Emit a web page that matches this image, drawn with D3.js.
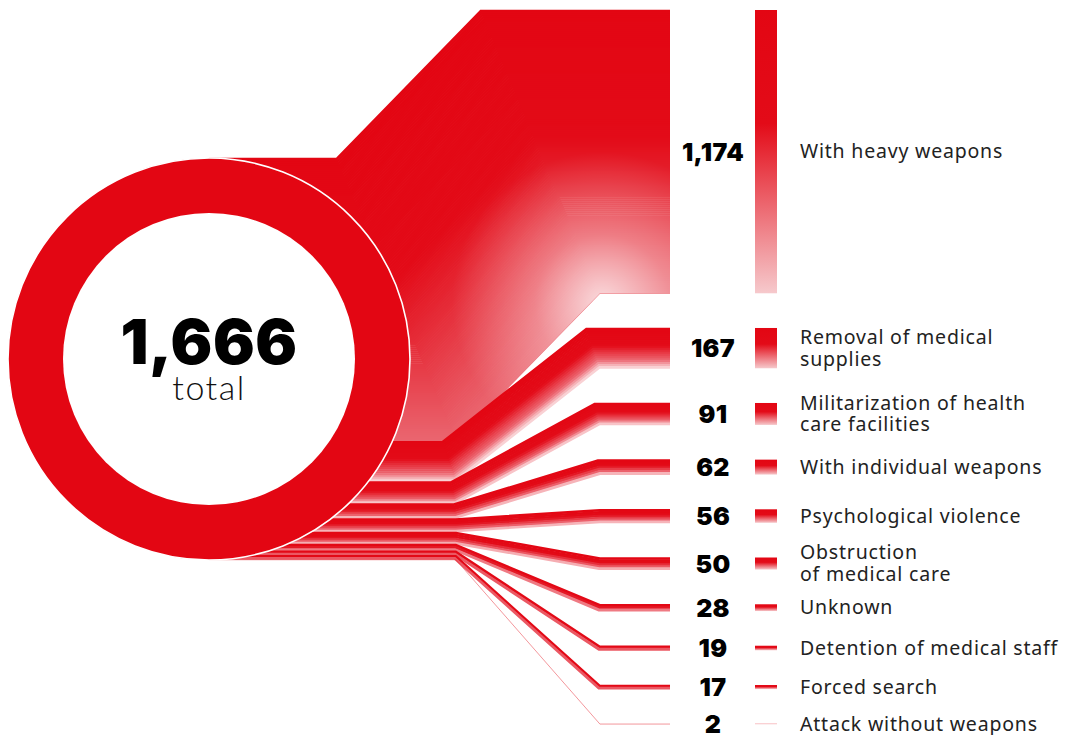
<!DOCTYPE html>
<html>
<head>
<meta charset="utf-8">
<script src="https://cdn.jsdelivr.net/npm/d3@7"></script>
<style>
  body { margin: 0; background: #fff; }
  svg { display: block; }
</style>
</head>
<body>
<div id="chart"></div>
<script>
// data
var categories = ["With heavy weapons", "Removal of medical supplies", "Militarization of health care facilities",
  "With individual weapons", "Psychological violence", "Obstruction of medical care", "Unknown",
  "Detention of medical staff", "Forced search", "Attack without weapons"];
var labelLines = [["With heavy weapons"], ["Removal of medical", "supplies"], ["Militarization of health", "care facilities"],
  ["With individual weapons"], ["Psychological violence"], ["Obstruction", "of medical care"], ["Unknown"],
  ["Detention of medical staff"], ["Forced search"], ["Attack without weapons"]];
var counts = [1174, 167, 91, 62, 56, 50, 28, 19, 17, 2];
var totalLabel = "total";

var width = 1067, height = 735;
var cx = 209, cy = 359, R = 201, r = 146;
var xFlowEnd = 670, bend1 = 456, bend2 = 600;
var rightTop = 10, rowGap = 34.7;
var numX = 713, barX = 755, barW = 22, labelX = 800;

var total = d3.sum(counts);
var fmt = d3.format(",");

var svg = d3.select("#chart").append("svg")
  .attr("width", width)
  .attr("height", height);

var defs = svg.append("defs");

// thickness scale: the whole total fills the circle's diameter
var k = d3.scaleLinear().domain([0, total]).range([0, 2 * R]);

// stack on the left (into the circle) and on the right (bars with gaps)
var flows = [];
var accL = 0, yR = rightTop;
counts.forEach(function(v, i) {
  var t = k(v);
  flows.push({
    name: categories[i], lines: labelLines[i], value: v, t: t,
    leftTop: cy - R + k(accL), rightTop: yR
  });
  accL += v;
  yR += t + rowGap;
});

function normal(a, b) {
  var dx = b[0] - a[0], dy = b[1] - a[1], len = Math.sqrt(dx * dx + dy * dy);
  return [-dy / len, dx / len];
}

// miter offset of a polyline by d (positive = downward side)
function offsetLine(pts, d) {
  return pts.map(function(p, i) {
    if (i === 0) { var n0 = normal(pts[0], pts[1]); return [p[0] + n0[0] * d, p[1] + n0[1] * d]; }
    if (i === pts.length - 1) { var nl = normal(pts[i - 1], pts[i]); return [p[0] + nl[0] * d, p[1] + nl[1] * d]; }
    var n1 = normal(pts[i - 1], pts[i]), n2 = normal(pts[i], pts[i + 1]);
    var bx = n1[0] + n2[0], by = n1[1] + n2[1];
    var s = d / (bx * n1[0] + by * n1[1]);
    return [p[0] + bx * s, p[1] + by * s];
  });
}

function centerLine(f) {
  var yL = f.leftTop + f.t / 2, yRc = f.rightTop + f.t / 2;
  var dy = Math.abs(yRc - yL);
  var alpha = Math.atan2(dy, bend2 - bend1);
  var shift = (f.t / 2) * Math.tan(alpha / 2);
  return [[cx, yL], [bend1 - shift, yL], [bend2 - shift, yRc], [xFlowEnd, yRc]];
}

var flowColor = d3.scaleLinear()
  .domain([0, 0.45, 0.8, 1])
  .range(["#e30613", "#e30b18", "#ec6570", "#fbe0e2"]);
var heavyColor = d3.scaleLinear()
  .domain([0, 0.45, 1])
  .range(["#e30613", "#e30b18", "#ea6670"]);

var line = d3.line();
var flowG = svg.append("g").attr("class", "flows");

flows.forEach(function(f, i) {
  var cl = centerLine(f);
  var n = Math.max(1, Math.round(f.t / 2));
  var sw = f.t / n;
  var col = i === 0 ? heavyColor : flowColor;
  for (var j = 0; j < n; j++) {
    var frac = (j + 0.5) / n;
    flowG.append("path")
      .attr("d", line(offsetLine(cl, (frac - 0.5) * f.t)))
      .attr("fill", "none")
      .attr("stroke", col(n === 1 ? 0.55 : frac))
      .attr("stroke-width", sw + (n > 1 ? 0.7 : 0))
      .attr("stroke-linejoin", "miter");
  }
  if (i === 0) {
    // light glow near the inner corner of the big flow
    var rg = defs.append("radialGradient").attr("id", "glow")
      .attr("gradientUnits", "userSpaceOnUse")
      .attr("cx", 602).attr("cy", 302).attr("r", 150);
    rg.append("stop").attr("offset", 0).attr("stop-color", "#fff").attr("stop-opacity", 0.75);
    rg.append("stop").attr("offset", 0.45).attr("stop-color", "#fff").attr("stop-opacity", 0.3);
    rg.append("stop").attr("offset", 1).attr("stop-color", "#fff").attr("stop-opacity", 0);
    var topE = offsetLine(cl, -f.t / 2), botE = offsetLine(cl, f.t / 2);
    flowG.append("path")
      .attr("d", line(topE.concat(botE.reverse())) + "Z")
      .attr("fill", "url(#glow)");
  }
});

// the ring
svg.append("circle")
  .attr("cx", cx).attr("cy", cy).attr("r", R)
  .attr("fill", "#e30613")
  .attr("stroke", "#fff").attr("stroke-width", 1.6);
svg.append("circle")
  .attr("cx", cx).attr("cy", cy).attr("r", r)
  .attr("fill", "#fff");

svg.append("text")
  .attr("x", cx).attr("y", 364)
  .attr("text-anchor", "middle")
  .style("font-family", "Inter, Lato, Roboto, sans-serif")
  .style("font-weight", 900)
  .style("font-size", "62px")
  .style("letter-spacing", "0.5px")
  .attr("fill", "#000")
  .text(fmt(total));
svg.append("text")
  .attr("x", cx).attr("y", 400)
  .attr("text-anchor", "middle")
  .style("font-family", "Lato, 'Noto Sans', sans-serif")
  .style("font-weight", 300)
  .style("font-size", "34px")
  .style("letter-spacing", "1.5px")
  .attr("fill", "#111")
  .text(totalLabel);

// bars, numbers and labels on the right
var barGrad = defs.append("linearGradient").attr("id", "barGrad")
  .attr("x1", 0).attr("y1", 0).attr("x2", 0).attr("y2", 1);
barGrad.append("stop").attr("offset", 0).attr("stop-color", "#e30613");
barGrad.append("stop").attr("offset", 0.4).attr("stop-color", "#e30b18");
barGrad.append("stop").attr("offset", 1).attr("stop-color", "#f6c9cc");

var rows = svg.append("g").attr("class", "rows")
  .selectAll("g").data(flows).enter().append("g");

rows.append("rect")
  .attr("x", barX).attr("width", barW)
  .attr("y", function(d) { return d.rightTop; })
  .attr("height", function(d) { return d.t; })
  .attr("fill", "url(#barGrad)");

rows.append("text")
  .attr("x", numX)
  .attr("y", function(d) { return d.rightTop + d.t / 2; })
  .attr("dy", "0.36em")
  .attr("text-anchor", "middle")
  .style("font-family", "Inter, Lato, Roboto, sans-serif")
  .style("font-weight", 900)
  .style("font-size", "25px")
  .style("letter-spacing", "0.3px")
  .attr("fill", "#000")
  .text(function(d) { return fmt(d.value); });

rows.each(function(d) {
  var g = d3.select(this);
  var c = d.rightTop + d.t / 2;
  var nl = d.lines.length;
  d.lines.forEach(function(s, j) {
    g.append("text")
      .attr("x", labelX)
      .attr("y", c + (j - (nl - 1) / 2) * 21.5)
      .attr("dy", "0.34em")
      .style("font-family", "'Noto Sans', 'Open Sans', sans-serif")
      .style("font-size", "19.5px")
      .style("letter-spacing", "0.8px")
      .attr("fill", "#222")
      .text(s);
  });
});
</script>
</body>
</html>
